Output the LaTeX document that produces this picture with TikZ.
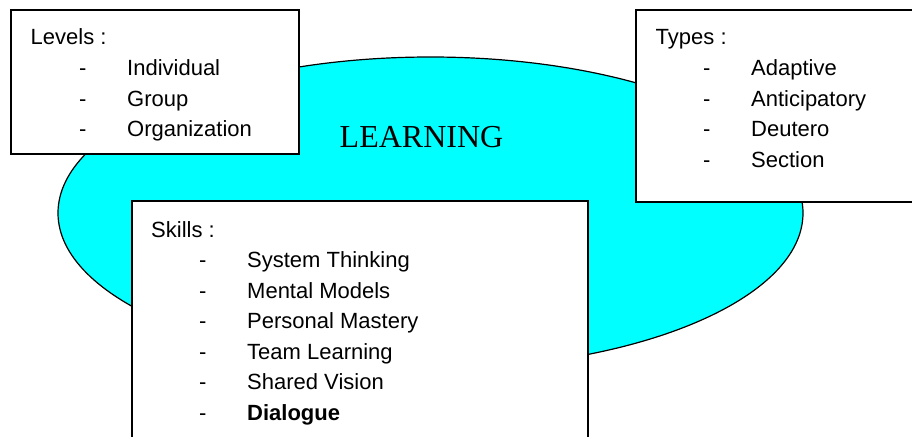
\documentclass[tikz,border=0pt]{standalone}
\usepackage{fontspec}
\setmainfont{Liberation Sans}
\newfontfamily\timesfont{Liberation Serif}
\definecolor{learncyan}{RGB}{0,255,255}
\begin{document}
\begin{tikzpicture}[x=1pt,y=-1pt,
  box/.style={draw,line width=1.8pt,fill=white},
  item/.style={anchor=base west,inner sep=0pt,font=\fontsize{22}{26}\selectfont}]
\useasboundingbox (0,0) rectangle (912,436);
\clip (0,0) rectangle (912,436);
\draw[fill=learncyan,line width=1.2pt] (430.5,213) ellipse [x radius=372.5,y radius=156];
\node[anchor=base west,inner sep=0pt,font=\timesfont\fontsize{32}{36}\selectfont] (learning) at (339.5,147) {LEARNING};
%levels
\draw[box] (11,10) rectangle (299,154);
\node[item] (levels) at (30.5,45) {Levels :};
\foreach \t [count=\i] in {Individual,Group,Organization}{
  \node[item] (levd\i) at (79,{45+30.5*\i}) {-};
  \node[item] (lev\i) at (127,{45+30.5*\i}) {\t};}
%types
\draw[box] (636,10) rectangle (930,202);
\node[item] (types) at (655.5,45) {Types :};
\foreach \t [count=\i] in {Adaptive,Anticipatory,Deutero,Section}{
  \node[item] (typd\i) at (703,{45+30.5*\i}) {-};
  \node[item] (typ\i) at (751,{45+30.5*\i}) {\t};}
%skills
\draw[box] (132,201) rectangle (588,460);
\node[item] (skills) at (151,237) {Skills :};
\foreach \t [count=\i] in {System Thinking,Mental Models,Personal Mastery,Team Learning,Shared Vision,{\bfseries Dialogue}}{
  \node[item] (skid\i) at (199,{237+30.5*\i}) {-};
  \node[item] (ski\i) at (247,{237+30.5*\i}) {\t};}
\end{tikzpicture}
\end{document}
